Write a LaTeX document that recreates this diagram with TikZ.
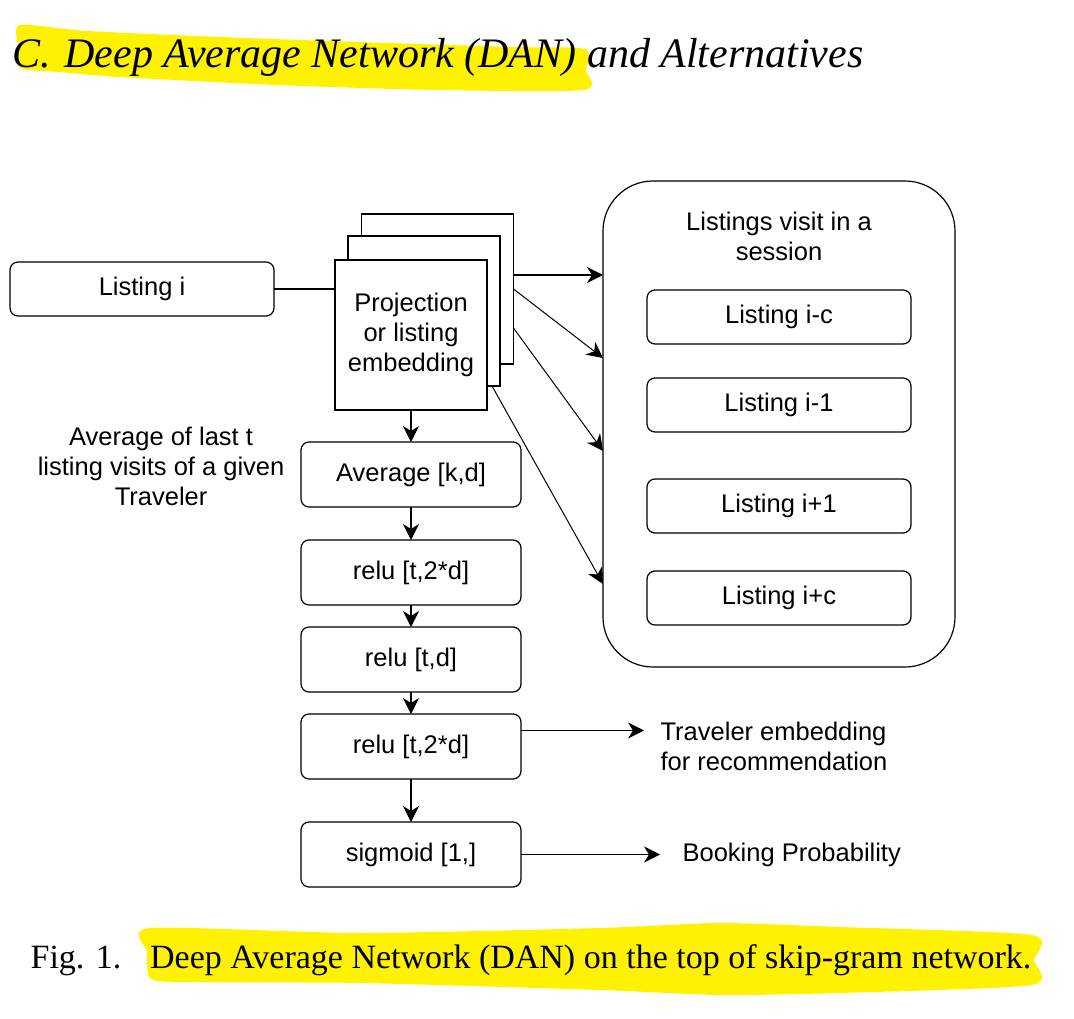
\documentclass[tikz,border=0pt]{standalone}
\usepackage{fontspec}
\setmainfont{Liberation Serif}
\setsansfont{Liberation Sans}
\usetikzlibrary{arrows.meta,positioning,calc}

\begin{document}
\begin{tikzpicture}[
  x=1pt, y=-1pt,
  >={Stealth[length=16pt,width=16pt,inset=5pt]},
  line width=1.2pt,
  font=\sffamily\fontsize{25.5}{30}\selectfont,
  node distance=22pt,
  % layer boxes of the network
  box/.style = {
    draw, rounded corners=8pt,
    align=center,
    inner sep=0pt, outer sep=0pt,
    minimum width=\boxw,
    minimum height=65pt,
    fill=white
  },
  lbox/.style = {box, minimum width=264pt, minimum height=54pt},
  sheet/.style = {
    draw, fill=white,
    inner sep=0pt, outer sep=0pt,
    minimum width=152pt, minimum height=150pt,
    align=center
  },
  session/.style = {draw, rounded corners=50pt, inner sep=0pt, outer sep=0pt,
    minimum width=352pt, minimum height=486pt},
  note/.style = {align=center, inner sep=0pt},
  marker/.style = {fill=yellow, draw=none}
]

% ---- constants ----
\def\boxw{220pt}

\useasboundingbox (0,0) rectangle (1074,1019);

% ---- highlighter strokes ----
\fill[marker] plot[smooth cycle, tension=0.4] coordinates {
  (20,25) (87,31) (221,37) (356,42) (514,47) (585,49) (586,70) (584,90)
  (435,90) (277,85) (119,77) (59,72) (20,68) (18,46)};
\fill[marker] plot[smooth cycle, tension=0.4] coordinates {
  (150,928) (360,933) (600,928) (720,923) (839,927) (1032,935) (1034,960)
  (1032,985) (839,993) (720,995) (600,990) (360,983) (180,982) (150,978) (147,952)};

% ---- heading and caption ----
\node[anchor=base west, inner sep=0pt, font=\rmfamily\itshape\fontsize{42}{48}\selectfont]
  (head) at (12,68) {C.\hspace{0.32em}Deep Average Network (DAN) and Alternatives};
\node[anchor=base west, inner sep=0pt, font=\rmfamily\fontsize{34}{40}\selectfont]
  (caption) at (30,968) {Fig. 1.\hspace{0.85em}Deep Average Network (DAN) on the top of skip-gram network.};

% ---- input ----
\node[lbox] (li) at (142,289) {Listing i};

% Projection: three stacked sheets
\node[sheet] (projC) at (437.5,289) {};
\node[sheet] (projB) at ($(projC)+(-13.5,22)$) {};
\node[sheet] (proj)  at ($(projB)+(-13,24)$) {Projection\\or listing\\embedding};

% ---- DAN layers ----
\node[box, below=32pt of proj] (avg) {Average [k,d]};
\node[box, below=33pt of avg] (relu1) {relu [t,2*d]};
\node[box, below=22pt of relu1] (relu2) {relu [t,d]};
\node[box, below=22pt of relu2] (relu3) {relu [t,2*d]};
\node[box, below=43pt of relu3] (sig) {sigmoid [1,]};

\node[note, left=16pt of avg, yshift=8pt] (avgnote) {Average of last t\\listing visits of a given\\Traveler};

% ---- outputs ----
\node[note, anchor=west, inner xsep=16pt, right=123pt of relu3, align=left] (trav)
  {Traveler embedding\\for recommendation};
\node[note, anchor=west, inner xsep=22pt, right=139pt of sig] (book) {Booking Probability};

% ---- context window ----
\node[session] (sess) at (779,424) {};
\node[note, below=30pt of sess.north] (stitle) {Listings visit in a\\session};
\node[lbox] (lc) at (779,317) {Listing i-c};
\node[lbox, below=34pt of lc] (lm1) {Listing i-1};
\node[lbox, below=47pt of lm1] (lp1) {Listing i+1};
\node[lbox, below=38pt of lp1] (lpc) {Listing i+c};

% ---- arrows ----
\draw (li.east) -- (li.east -| proj.west);
\draw[->] (proj) -- (avg);
\draw[->] (avg) -- (relu1);
\draw[->] (relu1) -- (relu2);
\draw[->] (relu2) -- (relu3);
\draw[->] (relu3) -- (sig);

\draw[->] ([yshift=16pt]relu3.east) -- ([yshift=16pt]relu3.east -| trav.west);
\draw[->] (sig.east) -- (book.west);

% skip-gram context arrows
\draw[->] ([yshift=14pt]projC.east) -- ([yshift=14pt]projC.east -| sess.west);
\draw[->, line width=1pt] (projC.east) -- ($(sess.west)+(0,-66)$);
\draw[->, line width=1pt] ([yshift=-39pt]projC.east) -- ($(sess.west)+(0,27)$);
\draw[->, line width=1pt] ([xshift=-8pt]projB.south east) -- ($(sess.west)+(0,160)$);

\end{tikzpicture}
\end{document}
